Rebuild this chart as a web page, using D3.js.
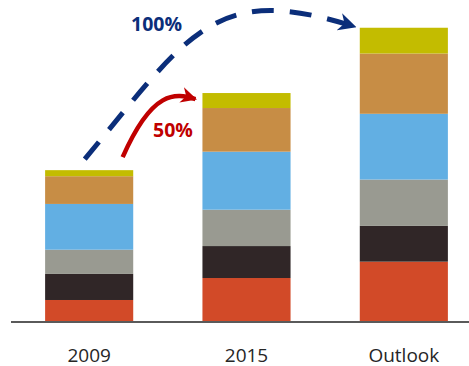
<!DOCTYPE html>
<html>
<head>
<meta charset="utf-8">
<script src="https://cdn.jsdelivr.net/npm/d3@7/dist/d3.min.js"></script>
<style>
  html, body { margin: 0; padding: 0; background: #fff; }
  svg { display: block; }
</style>
</head>
<body>
<svg id="chart" width="469" height="366"></svg>
<script>
// Categories along the x axis
const categories = ["2009", "2015", "Outlook"];
// Stack layers, bottom to top
const seriesNames = ["s1", "s2", "s3", "s4", "s5", "s6"];
const seriesColors = ["#D24A28", "#302627", "#999A91", "#62AFE3", "#C78D45", "#C3BC00"];
// Values per category (index = category), one array per layer
const s1 = [14.2, 28.7, 39.5];
const s2 = [17.2, 21.1, 23.6];
const s3 = [16.0, 24.0, 30.6];
const s4 = [30.2, 38.3, 43.4];
const s5 = [18.3, 28.8, 39.8];
const s6 = [4.0, 9.9, 17.0];
// Growth annotations
const growthLabels = ["100%", "50%"];

const layers = [s1, s2, s3, s4, s5, s6];
const rows = categories.map((c, i) => {
  const r = { cat: c };
  seriesNames.forEach((s, k) => r[s] = layers[k][i]);
  return r;
});

const svg = d3.select("#chart");

const x = d3.scaleBand()
  .domain(categories)
  .range([10.5, 482.5])
  .paddingInner(0.44)
  .paddingOuter(0.22);

const y = d3.scaleLinear()
  .domain([0, 200])
  .range([321.5, 18.5]);

const stacked = d3.stack().keys(seriesNames)(rows);

// Stacked bars
svg.append("g")
  .selectAll("g")
  .data(stacked)
  .join("g")
  .attr("fill", (d, i) => seriesColors[i])
  .selectAll("rect")
  .data(d => d)
  .join("rect")
  .attr("x", d => x(d.data.cat))
  .attr("width", x.bandwidth())
  .attr("y", d => y(d[1]))
  .attr("height", d => y(d[0]) - y(d[1]));

// Baseline axis
const xAxis = d3.axisBottom(x).tickSize(0).tickPadding(27.5);
const gx = svg.append("g")
  .attr("transform", `translate(0,${y(0)})`)
  .call(xAxis);
gx.select(".domain").remove();
gx.selectAll("text")
  .attr("font-family", "'Open Sans', sans-serif")
  .attr("font-size", "19px")
  .attr("fill", "#262626");
svg.append("line")
  .attr("x1", 11).attr("x2", 469)
  .attr("y1", y(0) + 0.5).attr("y2", y(0) + 0.5)
  .attr("stroke", "#5a5a5a")
  .attr("stroke-width", 2);

// Arrow markers
const defs = svg.append("defs");
function marker(id, color, size) {
  defs.append("marker")
    .attr("id", id)
    .attr("viewBox", "0 0 10 10")
    .attr("refX", 9)
    .attr("refY", 5)
    .attr("markerUnits", "userSpaceOnUse")
    .attr("markerWidth", size)
    .attr("markerHeight", size)
    .attr("orient", "auto")
    .append("path")
    .attr("d", "M0,0 L10,5 L0,10 L3,5 Z")
    .attr("fill", color);
}
marker("arrBlue", "#0B2E7A", 18);
marker("arrRed", "#C00000", 16);

const totals = rows.map(r => seriesNames.reduce((a, s) => a + r[s], 0));
const bw = x.bandwidth();

// Long dashed arc: from above the 2009 bar to the Outlook bar
const b0 = x("2009"), b2 = x("Outlook"), b1 = x("2015");
const p0 = [b0 + bw * 0.45, y(totals[0]) - 11];
const p3 = [b2 - 5, y(totals[2]) - 1];
const blue = d3.path();
blue.moveTo(p0[0], p0[1]);
blue.bezierCurveTo(p0[0] + 105, p0[1] - 127, p3[0] - 140, p3[1] - 45, p3[0], p3[1]);
svg.append("path")
  .attr("d", blue.toString())
  .attr("fill", "none")
  .attr("stroke", "#0B2E7A")
  .attr("stroke-width", 5)
  .attr("stroke-dasharray", "22,16")
  .attr("marker-end", "url(#arrBlue)");

// Short solid arc: from above the 2009 bar to the 2015 bar
const q0 = [b0 + bw * 0.88, y(totals[0]) - 13];
const q3 = [b1 - 7, y(totals[1]) + 6];
const red = d3.path();
red.moveTo(q0[0], q0[1]);
red.bezierCurveTo(q0[0] + 30, q0[1] - 68, q3[0] - 20, q3[1] - 6, q3[0], q3[1]);
svg.append("path")
  .attr("d", red.toString())
  .attr("fill", "none")
  .attr("stroke", "#C00000")
  .attr("stroke-width", 4.5)
  .attr("marker-end", "url(#arrRed)");

// Growth labels
svg.append("text")
  .attr("x", 131).attr("y", 31)
  .attr("font-family", "'Open Sans', sans-serif")
  .attr("font-weight", "bold")
  .attr("font-size", "19.5px")
  .attr("fill", "#0B2E7A")
  .text(growthLabels[0]);
svg.append("text")
  .attr("x", 153).attr("y", 137)
  .attr("font-family", "'Open Sans', sans-serif")
  .attr("font-weight", "bold")
  .attr("font-size", "19.5px")
  .attr("fill", "#C00000")
  .text(growthLabels[1]);
</script>
</body>
</html>
